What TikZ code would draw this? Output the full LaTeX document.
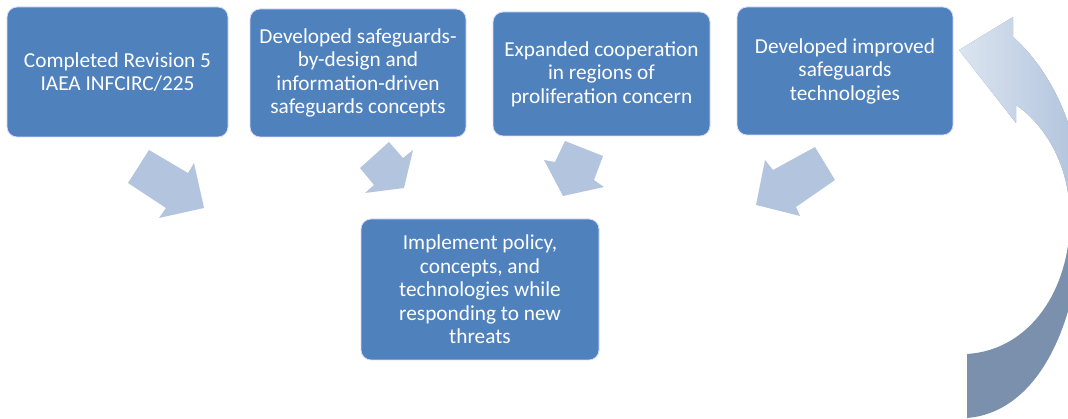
\documentclass[tikz,border=0pt]{standalone}
\usepackage{fontspec}
\setmainfont{Carlito}
\begin{document}
\begin{tikzpicture}[x=1pt,y=-1pt,
  stepbox/.style={draw=white!85!blue, line width=0.8pt, fill=boxblue, rounded corners=10pt,
    text=white, align=center, inner sep=0pt, font=\fontsize{21.3}{23.5}\selectfont},
  blockarrow/.style={fill=arrowblue, draw=none}]
\definecolor{boxblue}{HTML}{4F81BD}
\definecolor{arrowblue}{HTML}{B3C4DE}
\definecolor{curvelight}{HTML}{DDE6F1}
\definecolor{curvemid}{HTML}{AEC1DB}
\definecolor{curvedark}{HTML}{7A90AD}
\useasboundingbox (0,0) rectangle (1068,419);
\clip (0,0) rectangle (1068,419);

% boxes
\node[stepbox, minimum width=221pt, minimum height=130pt] (b1) at (117.5,72)
  {Completed Revision 5\\IAEA INFCIRC/225};
\node[stepbox, minimum width=216pt, minimum height=128pt] (b2) at (358,73)
  {Developed safeguards-\\by-design and\\information-driven\\safeguards concepts};
\node[stepbox, minimum width=217pt, minimum height=124pt] (b3) at (601.5,74)
  {Expanded cooperation\\in regions of\\proliferation concern};
\node[stepbox, minimum width=216pt, minimum height=128pt] (b4) at (845,71)
  {Developed improved\\safeguards\\technologies};
\node[stepbox, minimum width=238pt, minimum height=141pt] (b5) at (480,289.5)
  {Implement policy,\\concepts, and\\technologies while\\responding to new\\threats};

% block arrows
\fill[blockarrow] (128,183) -- (149,150) -- (188,173) -- (194,163) -- (204,208) -- (159,218) -- (166,208) -- cycle;
\fill[blockarrow] (360,168) -- (389,142) -- (403,158) -- (413,150) -- (404,188) -- (365,193) -- (374,185) -- cycle;
\fill[blockarrow] (565,141) -- (603,156) -- (594,180) -- (604,187) -- (563,196) -- (544,160) -- (555,162) -- cycle;
\fill[blockarrow] (815,147) -- (835,180) -- (796,207) -- (800,216) -- (756,205) -- (765,160) -- (773,170) -- cycle;

% curved arrow
\begin{scope}
\clip (967,418) .. controls (1040,412) and (1080,320) .. (1082,215)
  .. controls (1084,120) and (1040,60) .. (1013,37)
  -- (1013,17) -- (959,50) -- (1016,123) -- (1016,105)
  .. controls (1045,125) and (1070,165) .. (1070,218)
  .. controls (1070,290) and (1030,350) .. (967,354) -- cycle;
\fill[curvedark] (940,0) rectangle (1100,419);
\shade[left color=curvelight, right color=curvemid] (955,0) rectangle (1085,215);
\end{scope}
\end{tikzpicture}
\end{document}
